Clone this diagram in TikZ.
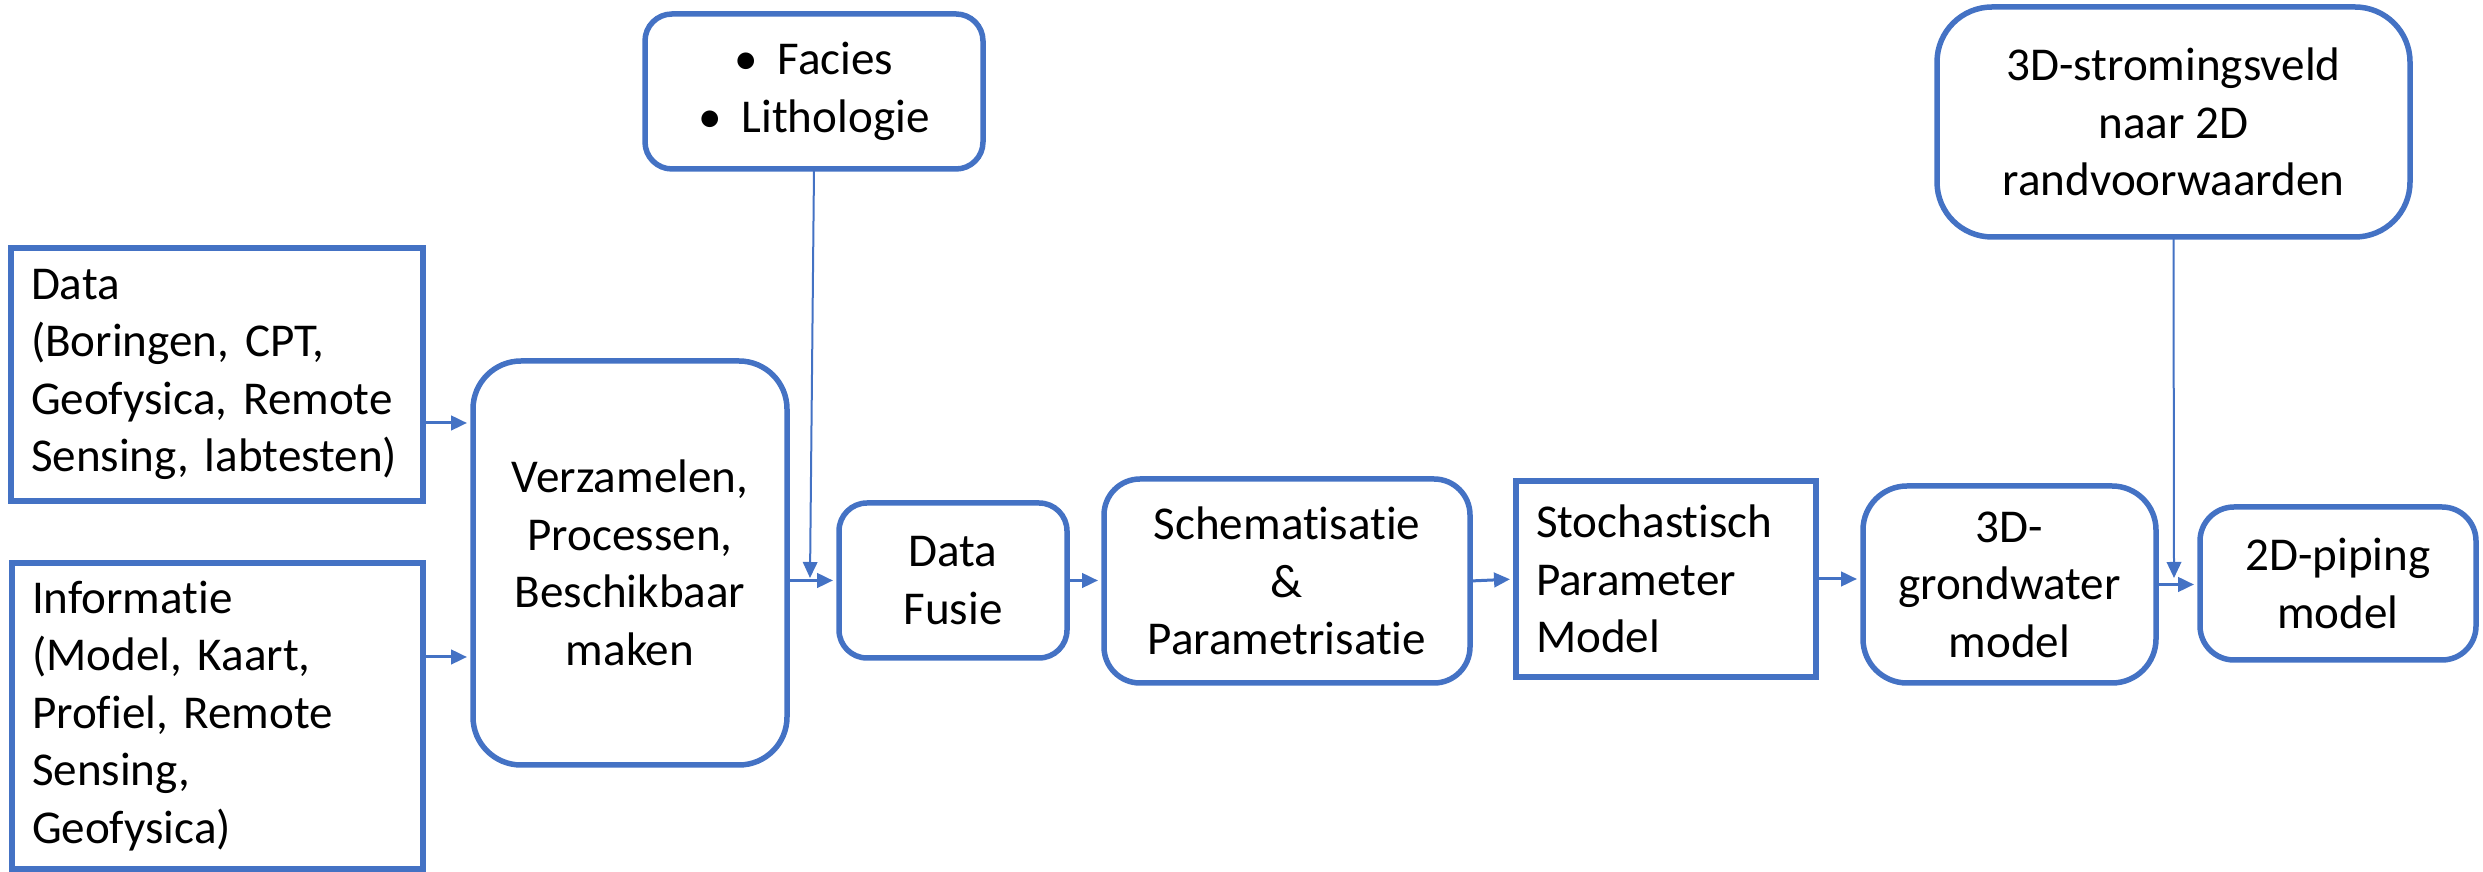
\documentclass[tikz,border=0pt]{standalone}
\usepackage{fontspec}
\setmainfont{Carlito}[Ligatures=NoCommon]
\frenchspacing
\usetikzlibrary{arrows.meta}
\definecolor{accent}{HTML}{4472C4}
\begin{document}
\begin{tikzpicture}[x=0.1mm,y=-0.1mm,
  box/.style={draw=accent, line width=0.55mm, outer sep=0pt, inner sep=0pt,
    align=center, text=black, font=\fontsize{13.4pt}{16.35pt}\selectfont},
  rbox/.style={box, rounded corners=#1},
  lbox/.style={box, align=left, inner xsep=2mm, text width=#1},
  arr/.style={draw=accent, line width=0.3mm,
    -{Triangle[length=1.6mm,width=1.45mm]}, shorten >=0.6mm},
  thinarr/.style={arr, line width=0.2mm, shorten >=0mm}]
\useasboundingbox (0,0) rectangle (2483,872);

% left inputs
\node[lbox=37.2mm, minimum height=25.3mm] (data) at (217,374.5)
  {Data\\\mbox{(Boringen, CPT,}\\\mbox{Geofysica, Remote}\\\mbox{Sensing, labtesten)}};
\node[lbox=37.1mm, minimum height=30.6mm] (info) at (217.5,716)
  {Informatie\\\mbox{(Model, Kaart,}\\\mbox{Profiel, Remote}\\Sensing,\\Geofysica)};

% main chain
\node[rbox=4.8mm, minimum width=31.4mm, minimum height=40.4mm] (verz) at (630,563)
  {Verzamelen,\\Processen,\\Beschikbaar\\maken};
\node[rbox=2.7mm, minimum width=33.8mm, minimum height=15.5mm] (facies) at (814,91.5)
  {\textbullet\hspace{0.42em}Facies\\\textbullet\hspace{0.42em}Lithologie};
\node[rbox=2.8mm, minimum width=22.8mm, minimum height=15.5mm] (fusie) at (953,580.5)
  {Data\\Fusie};
\node[rbox=3.6mm, minimum width=36.6mm, minimum height=20.4mm] (schem) at (1287,581)
  {Schematisatie\\\&\\Parametrisatie};
\node[lbox=26mm, minimum height=19.6mm] (stoch) at (1666,579)
  {Stochastisch\\Parameter\\Model};
\node[rbox=4.4mm, minimum width=29.3mm, minimum height=19.7mm] (grond) at (2009.5,584.5)
  {3D-\\grondwater\\model};
\node[rbox=3.4mm, minimum width=27.6mm, minimum height=15.3mm] (piping) at (2338,583.5)
  {2D-piping\\model};
\node[rbox=5.5mm, minimum width=47.3mm, minimum height=23mm] (strom) at (2173.5,122)
  {3D-stromingsveld\\naar 2D\\randvoorwaarden};

% junction points of the vertical feeds
\coordinate (fj) at (810,578);
\coordinate (sj) at (2174,578);

% connectors
\draw[arr] (data.east |- 0,423) -- (verz.west |- 0,423);
\draw[arr] (info.east |- 0,657) -- (verz.west |- 0,657);
\draw[arr] (verz.east |- fusie.west) -- (fusie.west);
\draw[arr] (fusie.east) -- (schem.west |- fusie.east);
\draw[arr] (schem.east) -- (stoch.west);
\draw[arr] (stoch.east) -- (stoch.east -| grond.west);
\draw[arr] (grond.east) -- (grond.east -| piping.west);
\draw[thinarr] (facies.south) -- (fj);
\draw[thinarr] (strom.south) -- (sj);
\end{tikzpicture}
\end{document}
